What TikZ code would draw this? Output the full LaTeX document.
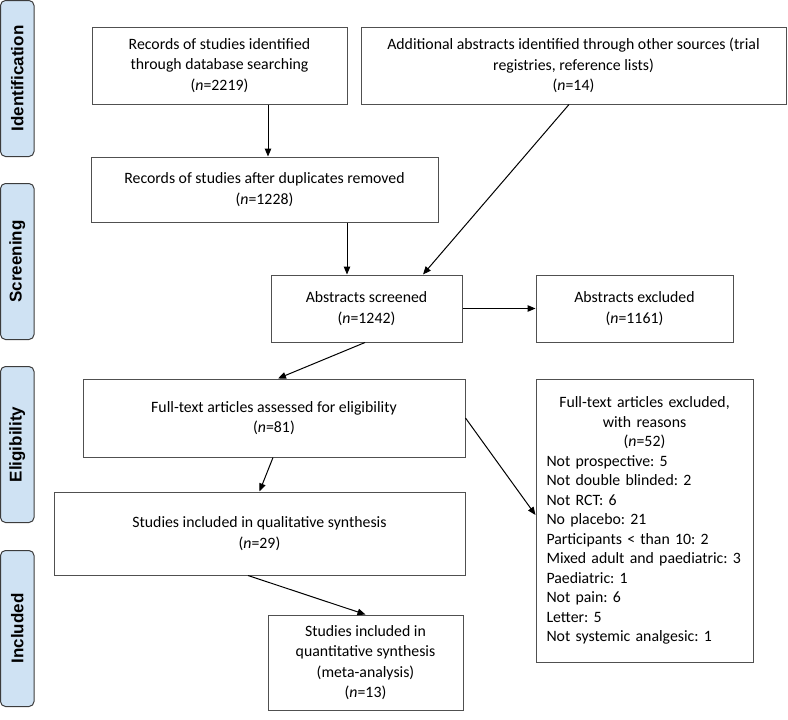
\documentclass[tikz,border=0pt]{standalone}
\usepackage{fontspec}
\setmainfont{Carlito}
\newfontfamily\tabfont{Liberation Sans}
\usetikzlibrary{arrows.meta}
\definecolor{tabblue}{RGB}{207,226,243}
\definecolor{tabline}{RGB}{60,60,60}
\definecolor{boxline}{RGB}{80,80,80}
\frenchspacing
\begin{document}
\begin{tikzpicture}[x=1pt,y=-1pt,
  box/.style={draw=boxline, line width=1pt, inner sep=0pt, align=center,
    font=\fontsize{15.8}{20.5}\selectfont},
  tabbox/.style={draw=tabline, fill=tabblue, rounded corners=5pt, line width=1pt,
    rotate=90, minimum width=156pt, minimum height=33.5pt, inner sep=0pt,
    font=\tabfont\bfseries\fontsize{17}{20}\selectfont},
  arr/.style={-{Triangle[length=8pt,width=6.5pt]}, line width=1pt, black}]
\useasboundingbox (0,0) rectangle (788,720);

% phase tabs
\node[tabbox] (tid) at (17.25,78.5) {Identification};
\node[tabbox] (tsc) at (17.25,261.5) {Screening};
\node[tabbox] (tel) at (17.25,444.5) {Eligibility};
\node[tabbox] (tin) at (17.25,628.5) {Included};

% boxes
\node[box, minimum width=255pt, minimum height=77pt] (b1) at (219.5,65.5)
  {Records of studies identified\\ through database searching\\ (\textit{n}=2219)};
\node[box, minimum width=425pt, minimum height=77pt] (b2) at (573.5,65.5)
  {Additional abstracts identified through other sources (trial\\ registries, reference lists)\\ (\textit{n}=14)};
\node[box, minimum width=347pt, minimum height=65pt] (b3) at (264.5,189.5)
  {Records of studies after duplicates removed\\ (\textit{n}=1228)};
\node[box, minimum width=191pt, minimum height=67pt] (b4) at (366.5,308.5)
  {Abstracts screened\\ (\textit{n}=1242)};
\node[box, minimum width=197pt, minimum height=67pt] (b5) at (634.5,308.5)
  {Abstracts excluded\\ (\textit{n}=1161)};
\node[box, minimum width=382pt, minimum height=78pt] (b6) at (274,418)
  {Full-text articles assessed for eligibility\\ (\textit{n}=81)};
\node[box, minimum width=411pt, minimum height=83pt] (b7) at (259.5,533.5)
  {Studies included in qualitative synthesis\\ (\textit{n}=29)};
\node[box, minimum width=195pt, minimum height=95pt] (b8) at (365.5,662.5)
  {Studies included in\\ quantitative synthesis\\ (meta-analysis)\\ (\textit{n}=13)};
\node[box, minimum width=217pt, minimum height=283pt, text width=196pt, align=left,
  font=\fontsize{15.8}{19.5}\selectfont] (b9) at (644.5,520.5)
  {{\centering Full-text articles excluded,\\ with reasons\\ (\textit{n}=52)\par}
   Not prospective: 5\\
   Not double blinded: 2\\
   Not RCT: 6\\
   No placebo: 21\\
   Participants < than 10: 2\\
   Mixed adult and paediatric: 3\\
   Paediatric: 1\\
   Not pain: 6\\
   Letter: 5\\
   Not systemic analgesic: 1};

% connectors
\draw[arr] ([xshift=48.5pt]b1.south) -- ([xshift=3.5pt]b3.north);
\draw[arr] ([xshift=-4.5pt]b2.south) -- ([xshift=56.5pt]b4.north);
\draw[arr] ([xshift=82.5pt]b3.south) -- ([xshift=-19.5pt]b4.north);
\draw[arr] (b4.east) -- (b5.west);
\draw[arr] ([xshift=-1.5pt]b4.south) -- ([xshift=4pt]b6.north);
\draw[arr] ([xshift=-1pt]b6.south) -- (b7.north);
\draw[arr] (b6.east) -- ([yshift=5.5pt]b9.west);
\draw[arr] ([xshift=-11.5pt]b7.south) -- (b8.north);
\end{tikzpicture}
\end{document}
